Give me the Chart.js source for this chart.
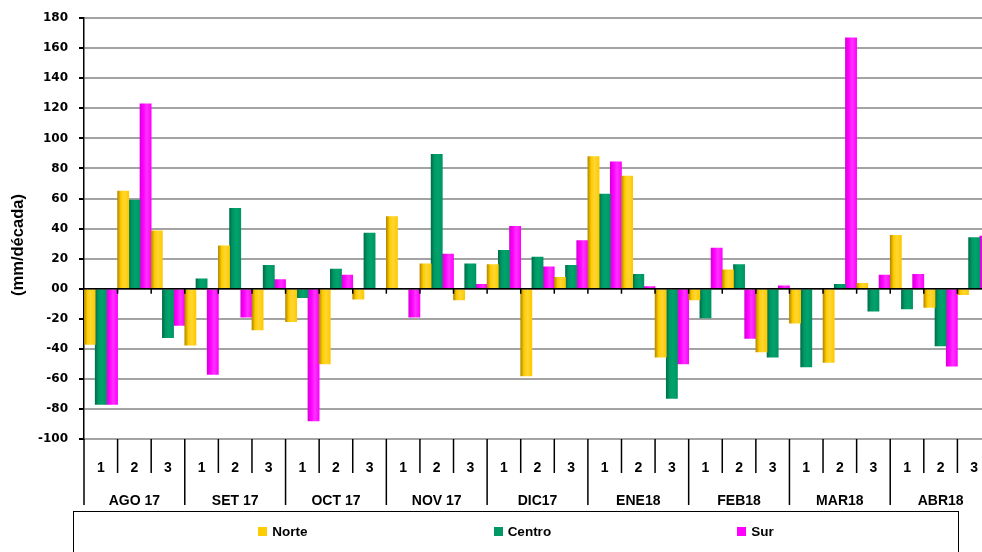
<!DOCTYPE html>
<html>
<head>
<meta charset="utf-8">
<script src="https://cdn.jsdelivr.net/npm/chart.js@4/dist/chart.umd.min.js"></script>
<style>
  body { margin: 0; overflow: hidden; background: #fff; }
  #wrap { position: relative; width: 982px; height: 552px; overflow: hidden; }
  #chart { position: absolute; left: 0; top: 0; }
  #legend {
    position: absolute; left: 73px; top: 511px; width: 886px; height: 70px;
    border: 1.5px solid #000; box-sizing: border-box;
    display: flex; justify-content: center; align-items: flex-start; gap: 186px;
    padding-top: 12px; padding-left: 0;
    font: bold 13.5px "Liberation Sans", Arial, sans-serif; color: #000;
  }
  #legend span.item { display: flex; align-items: center; }
  #legend i { display: inline-block; width: 9px; height: 9px; margin-right: 5px; }
</style>
</head>
<body>
<div id="wrap">
  <canvas id="chart" width="1000" height="552"></canvas>
  <div id="legend"></div>
</div>
<script>
// meses y decadas
const months = ['AGO 17', 'SET 17', 'OCT 17', 'NOV 17', 'DIC17', 'ENE18', 'FEB18', 'MAR18', 'ABR18'];
const decades = ['1', '2', '3'];

// anomalias (mm/decada) por decada
const norte = [-37, 65, 38.5, -37.5, 28.5, -27.5, -22, -50, -7, 48, 16.5, -7.5, 16, -58, 7.5, 88, 75, -45.5, -7.5, 12.5, -42, -23, -49, 3.5, 35.5, -12.5, -4];
const centro = [-77, 59, -32.5, 6.5, 53.5, 15.5, -6, 13, 37, 0, 89.5, 16.5, 25.5, 21, 15.5, 63, 9.5, -73, -19.5, 16, -45.5, -52, 3, -15, -13.5, -38, 34];
const sur = [-77, 123, -24.5, -57, -19, 6, -88, 9, 0, -19, 23, 3, 41.5, 14.5, 32, 84.5, 1.5, -50, 27, -33, 2, 0, 167, 9, 9.5, -51.5, 35];

const decadeLabels = [];
const monthLabels = [];
months.forEach(m => {
    decades.forEach((d, j) => {
        decadeLabels.push(d);
        monthLabels.push(j === 1 ? m : '');
    });
});

const shades = {
    Norte: ['#b58a00', '#ffcc00', '#ffd633', '#ffc800'],
    Centro: ['#006e4a', '#009966', '#00a36d', '#009463'],
    Sur: ['#d900d9', '#ff00ff', '#ff33ff', '#ff00ff']
};

function barFill(name) {
    return function (c) {
        const s = shades[name];
        if (c.type !== 'data') return s[1];
        const xs = c.chart.scales.x;
        if (!xs || !xs.width) return s[1];
        const w = xs.width / decadeLabels.length / 3;
        const left = xs.getPixelForValue(c.dataIndex) - 1.5 * w + c.datasetIndex * w;
        const g = c.chart.ctx.createLinearGradient(left, 0, left + w, 0);
        g.addColorStop(0, s[0]);
        g.addColorStop(0.3, s[1]);
        g.addColorStop(0.6, s[2]);
        g.addColorStop(1, s[3]);
        return g;
    };
}

// separadores del eje x, linea de cero y titulo del eje y
const extras = {
    id: 'extras',
    afterDatasetsDraw(chart) {
        const ctx = chart.ctx;
        const xs = chart.scales.x;
        const ys = chart.scales.y;
        const y0 = ys.getPixelForValue(0);
        const step = xs.width / decadeLabels.length;
        ctx.save();
        ctx.strokeStyle = '#000';
        ctx.lineWidth = 1.5;
        ctx.beginPath();
        ctx.moveTo(xs.left, y0);
        ctx.lineTo(xs.right, y0);
        for (let i = 1; i < decadeLabels.length; i++) {
            const x = xs.left + i * step;
            ctx.moveTo(x, y0);
            ctx.lineTo(x, y0 + 5);
        }
        ctx.stroke();
        ctx.restore();
    },
    afterDraw(chart) {
        const ctx = chart.ctx;
        const xs = chart.scales.x;
        const x2 = chart.scales.x2;
        const step = xs.width / decadeLabels.length;
        ctx.save();
        ctx.strokeStyle = '#000';
        ctx.lineWidth = 1.5;
        ctx.beginPath();
        for (let i = 0; i <= decadeLabels.length; i++) {
            const x = xs.left + i * step;
            ctx.moveTo(x, xs.top);
            ctx.lineTo(x, i % 3 === 0 ? x2.bottom : xs.bottom);
        }
        ctx.stroke();

        ctx.translate(18, 245);
        ctx.rotate(-Math.PI / 2);
        ctx.fillStyle = '#000';
        ctx.font = 'bold 16.5px "Liberation Sans", Arial, sans-serif';
        ctx.textAlign = 'center';
        ctx.textBaseline = 'middle';
        ctx.fillText('(mm/década)', 0, 0);
        ctx.restore();
    }
};

const tickFont = { family: '"Liberation Sans", Arial, sans-serif', size: 14, weight: 'bold' };

const chart = new Chart(document.getElementById('chart'), {
    type: 'bar',
    data: {
        labels: decadeLabels,
        datasets: [
            { label: 'Norte', data: norte, backgroundColor: barFill('Norte'), legendColor: '#ffcc00' },
            { label: 'Centro', data: centro, backgroundColor: barFill('Centro'), legendColor: '#009966' },
            { label: 'Sur', data: sur, backgroundColor: barFill('Sur'), legendColor: '#ff00ff' }
        ]
    },
    options: {
        responsive: false,
        animation: false,
        layout: { padding: { left: 0, top: 17, right: 9, bottom: 47 } },
        datasets: { bar: { categoryPercentage: 1, barPercentage: 1, borderWidth: 0 } },
        plugins: { legend: { display: false }, tooltip: { enabled: false } },
        scales: {
            x: {
                weight: 0,
                grid: { display: false },
                border: { display: false },
                ticks: { color: '#000', font: tickFont, padding: 13, autoSkip: false, maxRotation: 0 },
                afterFit(s) { s.height = 34; }
            },
            x2: {
                type: 'category',
                position: 'bottom',
                weight: 1,
                labels: monthLabels,
                offset: true,
                grid: { display: false },
                border: { display: false },
                ticks: { color: '#000', font: tickFont, padding: 11.6, autoSkip: false, maxRotation: 0 },
                afterFit(s) { s.height = 32; }
            },
            y: {
                min: -100,
                max: 180,
                ticks: {
                    stepSize: 20,
                    color: '#000',
                    padding: 11,
                    font: { family: '"DejaVu Sans", Verdana, sans-serif', size: 12, weight: 'bold' },
                    callback: v => v === 0 ? '00' : v
                },
                grid: { color: '#a3a3a3', lineWidth: 2, tickColor: '#000', tickLength: 5 },
                border: { color: '#000', width: 1.5 },
                afterFit(s) { s.width = 84; }
            }
        }
    },
    plugins: [extras]
});

// leyenda
const legend = document.getElementById('legend');
chart.data.datasets.forEach(ds => {
    const item = document.createElement('span');
    item.className = 'item';
    const box = document.createElement('i');
    box.style.background = ds.legendColor;
    item.appendChild(box);
    item.appendChild(document.createTextNode(ds.label));
    legend.appendChild(item);
});
</script>
</body>
</html>
